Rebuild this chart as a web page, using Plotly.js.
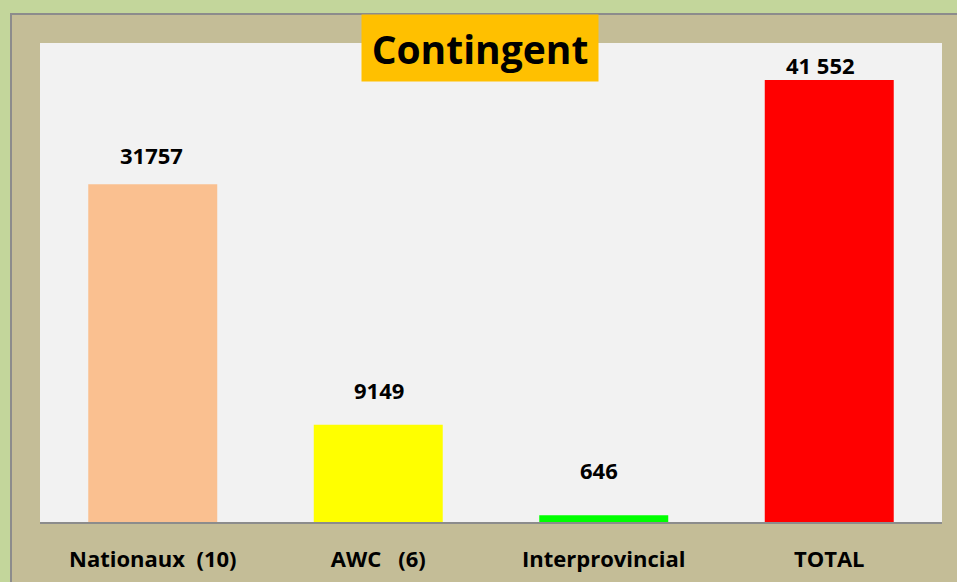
<!DOCTYPE html>
<html>
<head>
<meta charset="utf-8">
<script src="https://cdn.plot.ly/plotly-3.0.1.min.js"></script>
<style>html,body{margin:0;padding:0;background:#c3d69b;}#chart{width:957px;height:582px;}</style>
</head>
<body>
<div id="chart"></div>
<script>
// Data
const categories = ["Nationaux\u00a0\u00a0(10)", "AWC\u00a0\u00a0\u00a0(6)", "Interprovincial", "TOTAL"];
const values = [31757, 9149, 646, 41552];
const valueLabels = ["31757", "9149", "646", "41 552"];
const barColors = ["#fac090", "#ffff00", "#00ff00", "#ff0000"];
const titleText = "Contingent";

// Label placement (styling)
const labelYShift = [29, 35, 45, 15];
const labelXShift = [-1, 1, -5, -9];

const W = 957, H = 582;
const mL = 40, mR = 15, mT = 43, mB = 60;
const pw = W - mL - mR, ph = H - mT - mB;
const px = x => (x - mL) / pw;
const py = y => (H - mB - y) / ph;

const trace = {
  type: "bar",
  x: categories,
  y: values,
  marker: {color: barColors, line: {width: 0}},
  hoverinfo: "none"
};

const annotations = categories.map((c, i) => ({
  x: c, y: values[i], xref: "x", yref: "y",
  text: "<b>" + valueLabels[i] + "</b>",
  showarrow: false, yanchor: "middle", xanchor: "center",
  yshift: labelYShift[i], xshift: labelXShift[i],
  font: {family: "Open Sans, sans-serif", size: 22, color: "#000"}
}));
annotations.push({
  x: px(480), y: py(48), xref: "paper", yref: "paper",
  text: "<b>" + titleText + "</b>", showarrow: false,
  xanchor: "center", yanchor: "middle",
  width: 236, height: 66, bgcolor: "#ffc000", borderpad: 0,
  font: {family: "Open Sans, sans-serif", size: 39, color: "#000"}
});

const shapes = [
  // green outer strips
  {type: "rect", xref: "paper", yref: "paper", x0: px(0), x1: px(10), y0: py(H), y1: py(0), fillcolor: "#c3d69b", line: {width: 0}, layer: "below"},
  {type: "rect", xref: "paper", yref: "paper", x0: px(0), x1: px(W), y0: py(13), y1: py(0), fillcolor: "#c3d69b", line: {width: 0}, layer: "below"},
  // gray frame border
  {type: "rect", xref: "paper", yref: "paper", x0: px(10), x1: px(12), y0: py(H), y1: py(13), fillcolor: "#8c8c8c", line: {width: 0}, layer: "below"},
  {type: "rect", xref: "paper", yref: "paper", x0: px(10), x1: px(W), y0: py(15), y1: py(13), fillcolor: "#8c8c8c", line: {width: 0}, layer: "below"}
];

const layout = {
  width: W, height: H,
  margin: {l: mL, r: mR, t: mT, b: mB, pad: 0},
  paper_bgcolor: "#c4bd97",
  plot_bgcolor: "#f2f2f2",
  bargap: 0.428,
  showlegend: false,
  xaxis: {
    showline: true, linecolor: "#8c8c8c", linewidth: 2,
    ticks: "", showgrid: false, zeroline: false,
    ticklabelstandoff: 17,
    tickfont: {family: "Open Sans, sans-serif", size: 22, color: "#000", weight: "bold"}
  },
  yaxis: {
    range: [0, 45030], visible: false, showgrid: false, zeroline: false, fixedrange: true
  },
  annotations: annotations,
  shapes: shapes
};

Plotly.newPlot("chart", [trace], layout, {staticPlot: true, displayModeBar: false});
</script>
</body>
</html>
